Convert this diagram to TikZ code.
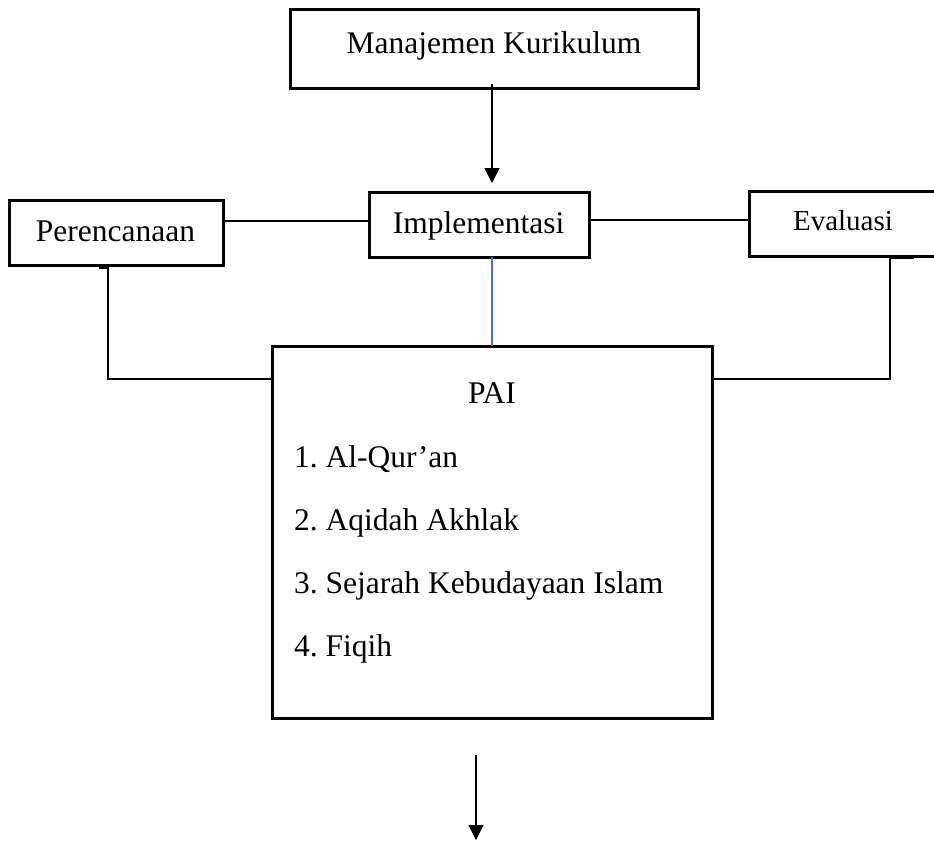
\documentclass[tikz,border=0pt]{standalone}
\usepackage{fontspec}
\setmainfont{Liberation Serif}
\usetikzlibrary{arrows.meta}
\frenchspacing
\begin{document}
\begin{tikzpicture}[x=1pt,y=-1pt,
  box/.style={draw,line width=3pt,inner sep=0pt,outer sep=0pt},
  lbl/.style={anchor=base,inner sep=0pt,font=\fontsize{31.5}{38}\selectfont},
  itm/.style={anchor=base west,inner sep=0pt,font=\fontsize{31.5}{38}\selectfont},
  conn/.style={line width=1.3pt},
  arr/.style={line width=1.3pt,-{Triangle[width=15pt,length=15pt]}}]
\useasboundingbox (0,0) rectangle (934,841);
\clip (0,0) rectangle (934,841);
\fill[white] (0,0) rectangle (934,841);
% boxes
\node[box,minimum width=408pt,minimum height=79pt] (mk) at (494,48.5) {};
\node[box,minimum width=220pt,minimum height=65pt] (impl) at (479,224.5) {};
\node[box,minimum width=214pt,minimum height=65pt] (per) at (116,232.5) {};
\node[box,minimum width=196pt,minimum height=65pt] (eva) at (847,223.5) {};
\node[box,minimum width=440pt,minimum height=372pt] (pai) at (492,532) {};
% texts
\node[lbl] (tmk) at (494,53) {Manajemen Kurikulum};
\node[lbl] (timpl) at (478.5,233) {Implementasi};
\node[lbl] (tper) at (115.5,241) {Perencanaan};
\node[lbl,font=\fontsize{29}{35}\selectfont] (teva) at (843,230) {Evaluasi};
\node[lbl] (tpai) at (492,403) {PAI};
\node[itm] (i1) at (294,467) {1. Al-Qur’an};
\node[itm] (i2) at (294,530) {2. Aqidah Akhlak};
\node[itm] (i3) at (294,593) {3. Sejarah Kebudayaan Islam};
\node[itm] (i4) at (294,656) {4. Fiqih};
% coordinates
\coordinate (ptick) at (99,268);
\coordinate (pcorner) at (108,268);
\coordinate (etick) at (890,258);
\coordinate (b1) at (476,755);
\coordinate (b2) at (476,840);
\coordinate (m1) at (492,84);
\coordinate (m2) at (492,183);
% connectors
\draw[arr] (m1) -- (m2);
\draw[conn] (per.east |- 0,221) -- (impl.west |- 0,221);
\draw[conn] (impl.east |- 0,220) -- (eva.west |- 0,220);
\draw[line width=1.3pt,color={rgb,255:red,68;green,114;blue,196}] (pai.north |- impl.south) -- (pai.north);
\draw[conn] (ptick) -- (pcorner) -- (pcorner |- 0,379) -- (pai.west |- 0,379);
\draw[conn] (etick) -- ++(24,0);
\draw[conn] (etick) |- (pai.east |- 0,379);
\draw[arr] (b1) -- (b2);
\end{tikzpicture}
\end{document}
